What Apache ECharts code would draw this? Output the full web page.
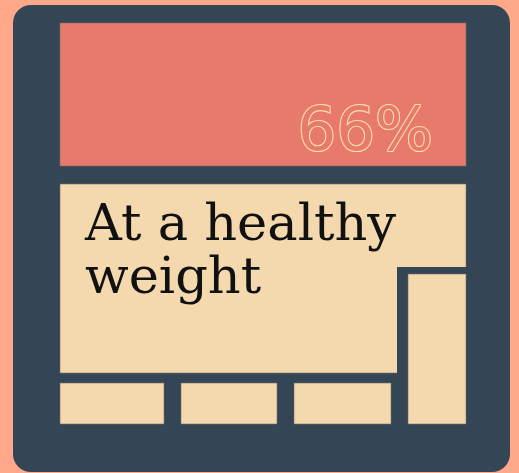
<!DOCTYPE html>
<html><head><meta charset="utf-8">
<script src="https://cdn.jsdelivr.net/npm/echarts@6/dist/echarts.min.js"></script>
<style>html,body{margin:0;padding:0;background:#FFA98A;}#c{width:519px;height:473px;}</style>
</head><body><div id="c"></div>
<script>
// Infographic blocks (layout units on hidden value axes)
var blockNames = ['percent', 'label', 'bar1', 'bar2', 'bar3', 'side'];
var blockX0 = [0, 0, 0, 121, 234, 348];
var blockX1 = [406, 406, 104, 217, 331, 406];
var blockY0 = [0, 161, 360, 360, 360, 251];
var blockY1 = [143, 350, 401, 401, 401, 401];
var blockText = ['66%', 'At a healthy\nweight', '', '', '', ''];
var percentValue = 66;

var RED = '#E87A6D', BEIGE = '#F5D9AE', DARK = '#344556', PALE = '#FCE2A6';
var data = blockNames.map(function (n, i) {
  return { name: n, value: [blockX0[i], blockY0[i], blockX1[i], blockY1[i]], text: blockText[i] };
});

var chart = echarts.init(document.getElementById('c'));
chart.setOption({
  backgroundColor: '#FFA98A',
  animation: false,
  graphic: [{
    type: 'rect', left: 13, top: 5, z: -10,
    shape: { width: 497, height: 467, r: 18 },
    style: { fill: DARK }
  }],
  grid: { left: 60, right: 53, top: 23, bottom: 49 },
  xAxis: { type: 'value', min: 0, max: 406, show: false },
  yAxis: { type: 'value', min: 0, max: 401, inverse: true, show: false },
  series: [{
    type: 'custom',
    data: data,
    renderItem: function (params, api) {
      var i = params.dataIndex;
      var p0 = api.coord([api.value(0), api.value(1)]);
      var p1 = api.coord([api.value(2), api.value(3)]);
      var rect = { x: p0[0], y: p0[1], width: p1[0] - p0[0], height: p1[1] - p0[1] };
      var name = blockNames[i];
      var children = [];
      if (name === 'side') {
        children.push({ type: 'rect', shape: { x: rect.x - 11, y: rect.y - 7, width: rect.width + 14, height: rect.height + 7 }, style: { fill: DARK } });
      }
      children.push({
        type: 'rect', shape: rect,
        style: { fill: name === 'percent' ? RED : BEIGE, stroke: 'rgba(120,110,95,0.6)', lineWidth: 1 }
      });
      if (name === 'percent') {
        children.push({
          type: 'text',
          style: {
            text: percentValue + '%', x: rect.x + 373, y: rect.y + 111,
            align: 'right', verticalAlign: 'middle',
            font: 'normal 400 61px "DejaVu Sans", sans-serif', fill: RED, stroke: PALE, lineWidth: 2.2
          }
        });
      } else if (name === 'label') {
        children.push({
          type: 'text',
          style: {
            text: blockText[i], x: rect.x + 25, y: rect.y + 16,
            align: 'left', verticalAlign: 'top', lineHeight: 53,
            font: '51px "DejaVu Serif", serif', fill: '#111'
          }
        });
      }
      return { type: 'group', children: children };
    }
  }]
});
</script></body></html>
